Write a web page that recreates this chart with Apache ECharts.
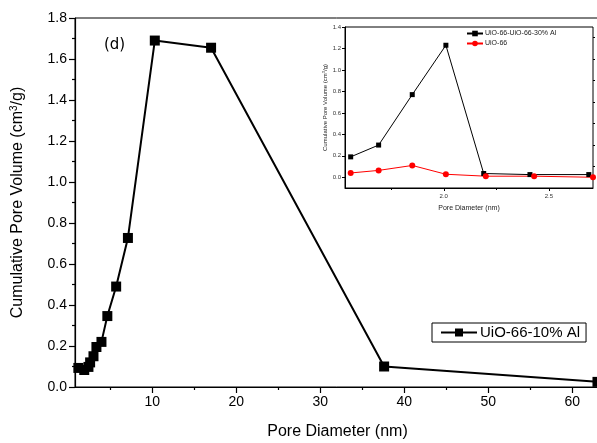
<!DOCTYPE html>
<html><head><meta charset="utf-8">
<script src="https://cdn.jsdelivr.net/npm/echarts@6/dist/echarts.min.js"></script>
<style>html,body{margin:0;padding:0;background:#fff}#c{width:597px;height:443px}</style>
</head><body><div id="c"></div>
<script>
// Main chart data: UiO-66-10% Al
const mainX = [1.2, 1.9, 2.4, 2.6, 3.0, 3.35, 3.95, 4.65, 5.7, 7.1, 10.3, 17.0, 37.6, 63.0];
const mainY = [0.093, 0.083, 0.098, 0.12, 0.15, 0.195, 0.22, 0.346, 0.49, 0.727, 1.69, 1.655, 0.10, 0.025];
const mainName = 'UiO-66-10% Al';
const mainXTicks = [10, 20, 30, 40, 50, 60];
const mainXMinor = [5, 15, 25, 35, 45, 55];

// Inset data
const insetX1 = [1.557, 1.69, 1.85, 2.01, 2.19, 2.41, 2.69];
const insetY1 = [0.19, 0.30, 0.77, 1.23, 0.035, 0.025, 0.025];
const insetName1 = 'UiO-66-UiO-66-30% Al';
const insetX2 = [1.557, 1.69, 1.85, 2.01, 2.2, 2.43, 2.71];
const insetY2 = [0.04, 0.064, 0.11, 0.028, 0.01, 0.01, 0.0];
const insetName2 = 'UiO-66';
const insetXTicks = [2.0, 2.5];
const insetXMinor = [1.75, 2.25];
const insetYTicks = [0, 0.2, 0.4, 0.6, 0.8, 1.0, 1.2, 1.4];
const insetYMinor = [0.1, 0.3, 0.5, 0.7, 0.9, 1.1, 1.3];

const F = 'Liberation Sans, Arial, sans-serif';
const zip = (a, b) => a.map((v, i) => [v, b[i]]);

const chart = echarts.init(document.getElementById('c'), null, {renderer: 'canvas'});
chart.setOption({
  animation: false,
  backgroundColor: '#fff',
  grid: [
    {left: 75, right: -3, top: 18, bottom: 56, show: true, borderColor: '#000', borderWidth: 1, backgroundColor: 'transparent', containLabel: false, outerBoundsMode: 'none'},
    {left: 345, top: 27, width: 248, height: 161, show: true, borderColor: '#000', borderWidth: 1, backgroundColor: '#fff', containLabel: false, outerBoundsMode: 'none'}
  ],
  xAxis: [
    {gridIndex: 0, type: 'value', min: 0.8, max: 63.3, position: 'bottom',
     name: 'Pore Diameter (nm)', nameLocation: 'middle', nameGap: 37,
     nameTextStyle: {fontFamily: F, fontSize: 16, color: '#000'},
     axisLine: {show: true, onZero: false, lineStyle: {color: '#000', width: 1.2}},
     axisTick: {show: true, inside: false, length: 6, customValues: mainXTicks, lineStyle: {color: '#000', width: 1.2}},
     axisLabel: {show: true, customValues: mainXTicks, fontFamily: F, fontSize: 14, color: '#000', margin: 8},
     splitLine: {show: false}},
    {gridIndex: 0, type: 'value', min: 0.8, max: 63.3, position: 'bottom',
     axisLine: {show: false, onZero: false},
     axisTick: {show: true, inside: false, length: 3, customValues: mainXMinor, lineStyle: {color: '#000', width: 1.2}},
     axisLabel: {show: false}, splitLine: {show: false}},
    {gridIndex: 1, type: 'value', min: 1.53, max: 2.71, position: 'bottom',
     name: 'Pore Diameter (nm)', nameLocation: 'middle', nameGap: 17,
     nameTextStyle: {fontFamily: F, fontSize: 7, color: '#222'},
     axisLine: {show: true, onZero: false, lineStyle: {color: '#000', width: 1}},
     axisTick: {show: true, inside: false, length: 3, customValues: insetXTicks, lineStyle: {color: '#000'}},
     axisLabel: {show: true, customValues: insetXTicks, fontFamily: F, fontSize: 6, color: '#333', margin: 5,
       formatter: v => v.toFixed(1)},
     splitLine: {show: false}},
    {gridIndex: 1, type: 'value', min: 1.53, max: 2.71, position: 'bottom',
     axisLine: {show: false, onZero: false},
     axisTick: {show: true, inside: false, length: 2, customValues: insetXMinor, lineStyle: {color: '#000'}},
     axisLabel: {show: false}, splitLine: {show: false}}
  ],
  yAxis: [
    {gridIndex: 0, type: 'value', min: 0, max: 1.8, interval: 0.2,
     name: '{a|Cumulative Pore Volume (cm}{s|3}{a|/g)}', nameLocation: 'middle', nameGap: 48,
     nameTextStyle: {rich: {
       a: {fontFamily: F, fontSize: 16, color: '#000'},
       s: {fontFamily: F, fontSize: 10, color: '#000', verticalAlign: 'top', padding: [0, 0, 8, 0]}}},
     axisLine: {show: true, onZero: false, lineStyle: {color: '#000', width: 1.2}},
     axisTick: {show: true, inside: false, length: 6, lineStyle: {color: '#000', width: 1.2}},
     minorTick: {show: true, splitNumber: 2, length: 3, lineStyle: {color: '#000', width: 1.2}},
     axisLabel: {fontFamily: F, fontSize: 14, color: '#000', margin: 8, formatter: v => v.toFixed(1)},
     splitLine: {show: false}, minorSplitLine: {show: false}},
    {gridIndex: 1, type: 'value', min: -0.1, max: 1.4,
     name: '{a|Cumulative Pore Volume (cm}{s|3}{a|/g)}', nameLocation: 'middle', nameGap: 17,
     nameTextStyle: {rich: {
       a: {fontFamily: F, fontSize: 6, color: '#222'},
       s: {fontFamily: F, fontSize: 4, color: '#222', verticalAlign: 'top'}}},
     axisLine: {show: true, onZero: false, lineStyle: {color: '#000', width: 1}},
     axisTick: {show: true, inside: false, length: 3, customValues: insetYTicks, lineStyle: {color: '#000'}},
     axisLabel: {show: true, customValues: insetYTicks, fontFamily: F, fontSize: 6, color: '#333', margin: 4,
       formatter: v => v.toFixed(1)},
     splitLine: {show: false}},
    {gridIndex: 1, type: 'value', min: -0.1, max: 1.4,
     axisLine: {show: false, onZero: false},
     axisTick: {show: true, inside: false, length: 2, customValues: insetYMinor, lineStyle: {color: '#000'}},
     axisLabel: {show: false}, splitLine: {show: false}}
  ],
  legend: [
    {data: [mainName], left: 432, top: 323, orient: 'vertical', padding: [2, 6, 2, 8],
     borderColor: '#000', borderWidth: 1, backgroundColor: '#fff',
     itemWidth: 36, itemHeight: 10, itemGap: 4,
     textStyle: {fontFamily: F, fontSize: 15, color: '#000', padding: [0, 0, 0, -2]}},
    {data: [insetName1, insetName2], left: 466, top: 30, orient: 'vertical', padding: 0,
     itemWidth: 16, itemHeight: 7, itemGap: 3,
     textStyle: {fontFamily: F, fontSize: 7, color: '#222', padding: [0, 0, 0, -3]}}
  ],
  graphic: [
    {type: 'text', left: 104, top: 38, style: {text: '(d)', fontFamily: 'DejaVu Sans, sans-serif', fontSize: 15, fill: '#000'}}
  ],
  series: [
    {name: mainName, type: 'line', xAxisIndex: 0, yAxisIndex: 0, data: zip(mainX, mainY),
     symbol: 'rect', symbolSize: 10, lineStyle: {color: '#000', width: 2}, itemStyle: {color: '#000'}, z: 3},
    {name: insetName1, type: 'line', xAxisIndex: 2, yAxisIndex: 1, data: zip(insetX1, insetY1),
     symbol: 'rect', symbolSize: 5, lineStyle: {color: '#000', width: 1}, itemStyle: {color: '#000'}, z: 5},
    {name: insetName2, type: 'line', xAxisIndex: 2, yAxisIndex: 1, data: zip(insetX2, insetY2),
     symbol: 'circle', symbolSize: 6, lineStyle: {color: '#ff0000', width: 1}, itemStyle: {color: '#ff0000'}, z: 5}
  ]
});
</script></body></html>
